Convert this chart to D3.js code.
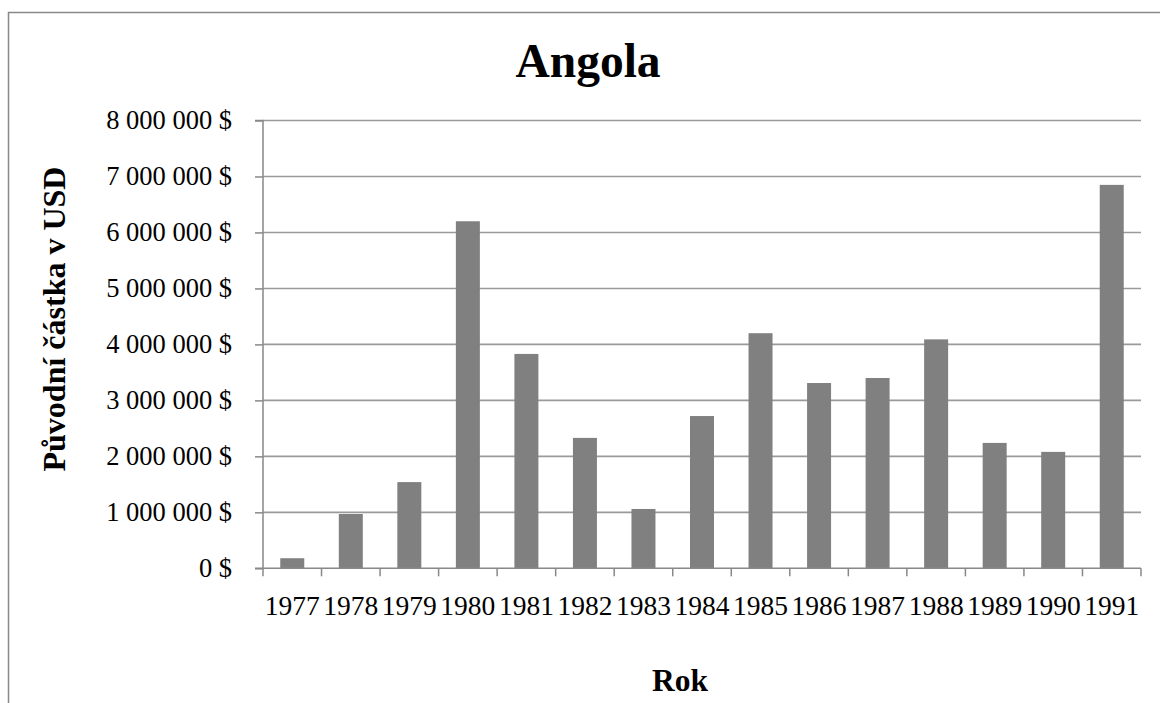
<!DOCTYPE html>
<html><head><meta charset="utf-8">
<script src="https://cdn.jsdelivr.net/npm/d3@7"></script>
<style>body{margin:0;background:#fff}svg{display:block}</style>
</head><body>
<svg id="c" width="1160" height="703"></svg>
<script>
const years = ["1977","1978","1979","1980","1981","1982","1983","1984","1985","1986","1987","1988","1989","1990","1991"];
const amounts = [180000, 970000, 1540000, 6200000, 3830000, 2330000, 1060000, 2720000, 4200000, 3310000, 3400000, 4090000, 2240000, 2080000, 6850000];
const yTicks = [0,1000000,2000000,3000000,4000000,5000000,6000000,7000000,8000000];
const title = "Angola";
const xTitle = "Rok";
const yTitle = "Původní částka v USD";

const svg = d3.select("#c");
const L = 263, R = 1141, T = 120.5, B = 568.3;
const x = d3.scaleBand().domain(years).range([L, R]).paddingInner(0.59).paddingOuter(0.295);
const xb = d3.scaleBand().domain(years).range([L, R]).padding(0);
const y = d3.scaleLinear().domain([0, 8000000]).range([B, T]);
const serif = "'Liberation Serif','Times New Roman',serif";
const fmt = v => d3.format(",")(v).replace(/,/g, " ") + " $";

// frame
svg.append("path").attr("d", "M8.5,703 L8.5,12.5 L1160,12.5").attr("fill","none").attr("stroke","#888").attr("stroke-width",1.5);

// gridlines
svg.append("g").selectAll("line").data(yTicks.filter(d=>d>0)).join("line")
  .attr("x1", L).attr("x2", R).attr("y1", d=>y(d)).attr("y2", d=>y(d))
  .attr("stroke", "#9a9a9a").attr("stroke-width", 1.6);

// bars
svg.append("g").selectAll("rect").data(years).join("rect")
  .attr("x", d=>x(d)).attr("width", x.bandwidth())
  .attr("y", (d,i)=>y(amounts[i])).attr("height", (d,i)=>B - y(amounts[i]))
  .attr("fill", "#808080");

// y axis
const yAxis = d3.axisLeft(y).tickValues(yTicks).tickFormat(fmt).tickSize(8).tickPadding(23);
const gy = svg.append("g").attr("transform", `translate(${L},0)`).call(yAxis);
gy.select(".domain").attr("stroke","#888").attr("stroke-width",1.5).attr("d", `M-8,${B}H0V${T}H-8`);
gy.selectAll(".tick line").attr("stroke","#888").attr("stroke-width",1.5);
gy.selectAll(".tick text").attr("font-family", serif).attr("font-size", 26.5).attr("fill","#000");

// x axis
const gx = svg.append("g");
gx.append("line").attr("x1", L).attr("x2", R).attr("y1", B).attr("y2", B).attr("stroke","#888").attr("stroke-width",1.5);
const bounds = years.map(d=>xb(d)).concat([R]);
gx.selectAll("line.t").data(bounds).join("line").attr("class","t")
  .attr("x1", d=>d).attr("x2", d=>d).attr("y1", B).attr("y2", B+8).attr("stroke","#888").attr("stroke-width",1.5);
gx.selectAll("text").data(years).join("text")
  .attr("x", d=>xb(d)+xb.bandwidth()/2).attr("y", 615).attr("text-anchor","middle")
  .attr("font-family", serif).attr("font-size", 27.5).attr("fill","#000").text(d=>d);

// titles
svg.append("text").attr("x", 588).attr("y", 77).attr("text-anchor","middle")
  .attr("font-family", serif).attr("font-weight","bold").attr("font-size", 47.5).text(title);
svg.append("text").attr("x", 680).attr("y", 691).attr("text-anchor","middle")
  .attr("font-family", serif).attr("font-weight","bold").attr("font-size", 31.5).text(xTitle);
svg.append("text").attr("transform", "translate(65,319) rotate(-90)").attr("text-anchor","middle")
  .attr("font-family", serif).attr("font-weight","bold").attr("font-size", 32).text(yTitle);
</script>
</body></html>
